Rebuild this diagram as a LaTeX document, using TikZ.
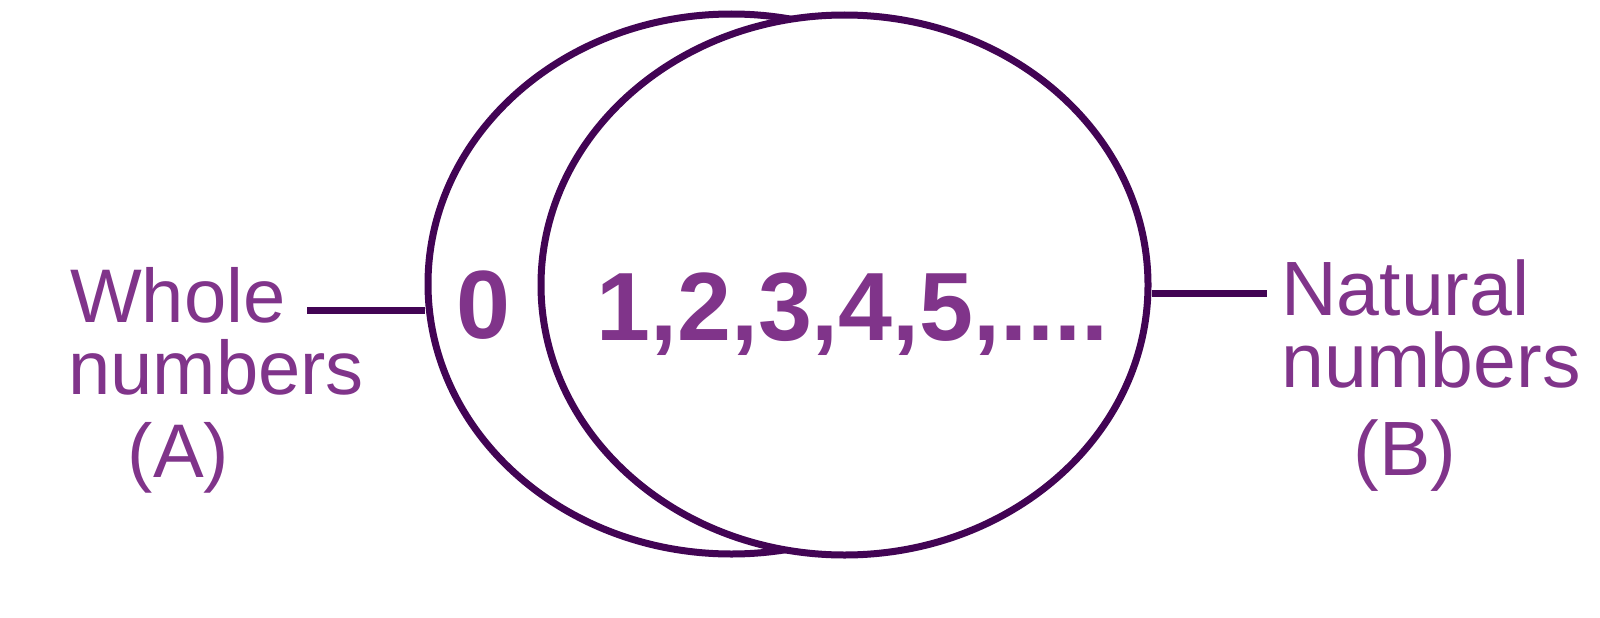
\documentclass[tikz,border=0pt]{standalone}
\usepackage{fontspec}
\setmainfont{Liberation Sans}
\usetikzlibrary{shapes.geometric}
\definecolor{txtpurple}{RGB}{128,52,138}
\definecolor{linepurple}{RGB}{66,4,84}
\tikzset{
  setel/.style={ellipse, draw=linepurple, line width=7pt, inner sep=0pt, fill=white,
    minimum width=607pt, minimum height=540pt},
  conn/.style={draw=linepurple, line width=7pt},
  labl/.style={text=txtpurple, inner sep=0pt, font=\fontsize{76}{76}\selectfont},
  labr/.style={text=txtpurple, inner sep=0pt, font=\fontsize{77}{77}\selectfont},
  num/.style={text=txtpurple, inner sep=0pt, font=\fontsize{97}{97}\selectfont\bfseries}
}
\begin{document}
\begin{tikzpicture}[x=1pt,y=-1pt]
\useasboundingbox (0,0) rectangle (1600,618);
% sets
\node[setel] (A) at (731.5,284) {};
\node[setel] (B) at (844.5,285) {};
% members
\node[num, anchor=base] (zero) at (483,338) {0};
\node[num, anchor=base west] (nat) at (596,340) {1,2,3,4,5,....};
% labels
\node[labl, anchor=base west] (w1) at (70,322) {Whole};
\node[labl, anchor=base west] (w2) at (68,394) {numbers};
\node[labl, anchor=base] (w3) at (178.5,477) {(A)};
\node[labr, anchor=base west] (n1) at (1281,315) {Natural};
\node[labr, anchor=base west] (n2) at (1281,387) {numbers};
\node[labr, anchor=base] (n3) at (1405,475) {(B)};
% connectors
\coordinate (lend) at (307,310);
\coordinate (rend) at (1267,293);
\draw[conn] (lend) -- (lend -| A.west);
\draw[conn] (B.east |- rend) -- (rend);
\end{tikzpicture}
\end{document}
